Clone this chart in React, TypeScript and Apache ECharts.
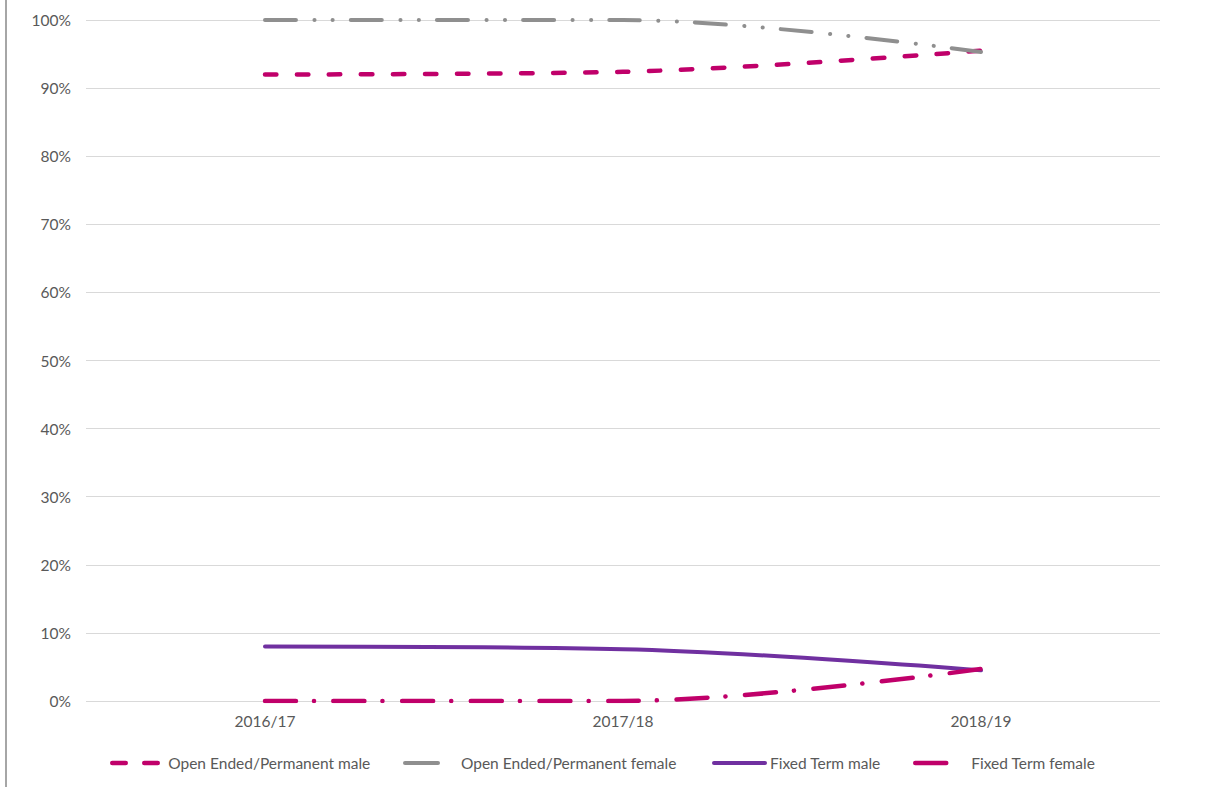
import React, { useEffect, useRef } from "react";
import * as echarts from "echarts";

// Academic years on the category axis
const years = ["2016/17", "2017/18", "2018/19"];

// Share of staff by contract type and sex (%)
const openEndedMale = [92.0, 92.4, 95.5];
const openEndedFemale = [100.0, 100.0, 95.3];
const fixedTermMale = [8.0, 7.6, 4.5];
const fixedTermFemale = [0.0, 0.0, 4.7];

const seriesNames = [
  "Open Ended/Permanent male",
  "Open Ended/Permanent female",
  "Fixed Term male",
  "Fixed Term female",
];

const MAGENTA = "#C0006A";
const GREY = "#8F8F8F";
const PURPLE = "#7030A0";
const FONT = "Lato, 'Open Sans', sans-serif";
const TEXT = "#595959";
const FONT_SIZE = 15.5;

export default function App() {
  const ref = useRef<HTMLDivElement>(null);

  useEffect(() => {
    if (!ref.current) return;
    const chart = echarts.init(ref.current, undefined, { renderer: "svg" });

    const lineSeries = (
      name: string,
      data: number[],
      color: string,
      width: number,
      type: any
    ) => ({
      name,
      type: "line",
      data,
      smooth: 0.35,
      symbol: "none",
      lineStyle: { color, width, type, cap: "round", join: "round" },
      itemStyle: { color },
    });

    // one legend per series so each entry sits at its own x position
    const legendAt = (name: string, left: number, width: number, dash: any) => ({
      data: [name],
      left,
      top: 750,
      itemWidth: 51,
      itemHeight: 14,
      itemGap: 0,
      itemStyle: { opacity: 0 },
      lineStyle: { width, cap: "round", type: dash },
      textStyle: { color: TEXT, fontFamily: FONT, fontSize: FONT_SIZE },
    });

    chart.setOption({
      animation: false,
      backgroundColor: "#ffffff",
      grid: { left: 86, right: 54, top: 20, bottom: 86, containLabel: false },
      xAxis: {
        type: "category",
        data: years,
        boundaryGap: true,
        axisLine: { show: false },
        axisTick: { show: false },
        axisLabel: { color: TEXT, fontFamily: FONT, fontSize: FONT_SIZE, margin: 12 },
        splitLine: { show: false },
      },
      yAxis: {
        type: "value",
        min: 0,
        max: 100,
        interval: 10,
        axisLine: { show: false },
        axisTick: { show: false },
        axisLabel: {
          color: TEXT,
          fontFamily: FONT,
          fontSize: FONT_SIZE,
          margin: 15,
          formatter: "{value}%",
        },
        splitLine: { lineStyle: { color: "#D9D9D9", width: 1 } },
      },
      legend: [
        legendAt(seriesNames[0], 105, 4.5, [13.5, 18.5]),
        legendAt(seriesNames[1], 398, 4, [33, 60]),
        legendAt(seriesNames[2], 707, 4, "solid"),
        legendAt(seriesNames[3], 908, 4.5, [31, 60]),
      ],
      graphic: [
        {
          type: "line",
          shape: { x1: 6, y1: 0, x2: 6, y2: 787 },
          style: { stroke: "#A6A6A6", lineWidth: 2 },
        },
      ],
      series: [
        lineSeries(seriesNames[0], openEndedMale, MAGENTA, 4.5, [11.5, 20.5]),
        lineSeries(seriesNames[1], openEndedFemale, GREY, 4, [31, 18.5, 0.1, 18.3, 0.1, 18]),
        lineSeries(seriesNames[2], fixedTermMale, PURPLE, 4, "solid"),
        lineSeries(seriesNames[3], fixedTermFemale, MAGENTA, 4.5, [31, 18, 0.1, 19.5]),
      ],
    });

    return () => chart.dispose();
  }, []);

  return (
    <div
      ref={ref}
      style={{ position: "absolute", left: 0, top: 0, width: 1214, height: 787 }}
    />
  );
}
